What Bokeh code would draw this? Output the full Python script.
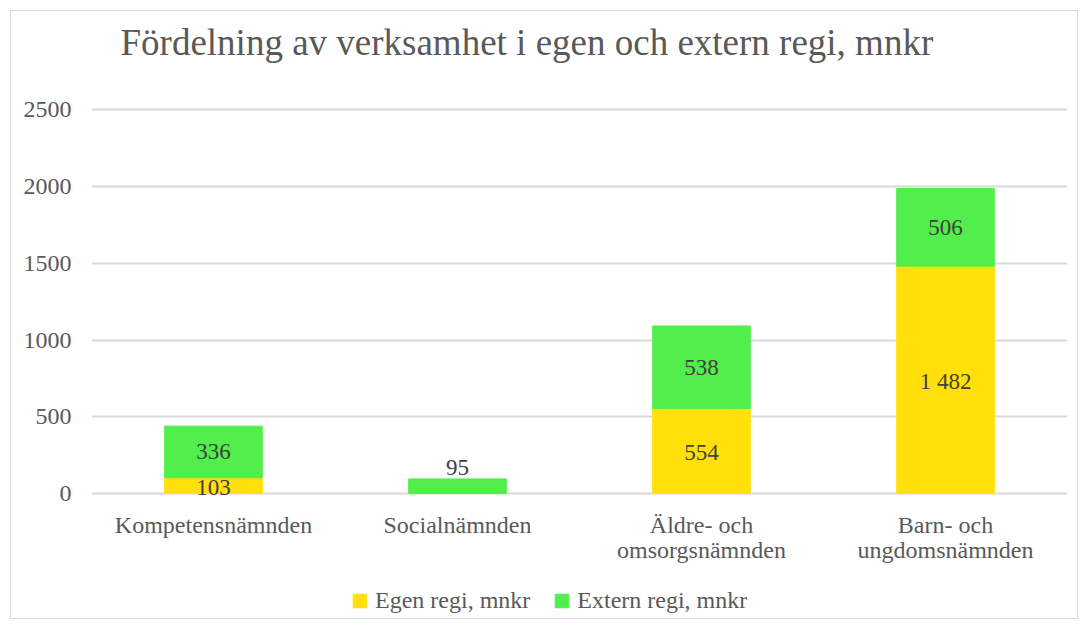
from bokeh.plotting import figure
from bokeh.models import ColumnDataSource, Legend, LegendItem, LabelSet, FactorRange
from bokeh.embed import file_html
from bokeh.resources import INLINE

categories = ["Kompetensnämnden", "Socialnämnden", "Äldre- och omsorgsnämnden", "Barn- och ungdomsnämnden"]
cat_line1 = ["Kompetensnämnden", "Socialnämnden", "Äldre- och", "Barn- och"]
cat_line2 = ["", "", "omsorgsnämnden", "ungdomsnämnden"]
egen = [103, 0, 554, 1482]
extern = [336, 95, 538, 506]
egen_labels = ["103", "", "554", "1 482"]
extern_labels = ["336", "95", "538", "506"]
y_ticks = [0, 500, 1000, 1500, 2000, 2500]
title = "Fördelning av verksamhet i egen och extern regi, mnkr"

YELLOW = "#FFE00A"
GREEN = "#52EE4B"
FONT = "'Liberation Serif', 'Times New Roman', serif"

src = ColumnDataSource(dict(
    cat=categories, egen=egen, extern=extern,
    top=[a + b for a, b in zip(egen, extern)],
    egen_mid=[a / 2 for a in egen],
    egen_lab=egen_labels,
    zero=[0] * len(categories),
    l1=cat_line1, l2=cat_line2,
))

# frame spans the whole chart box; y-range extended so that 0..2500 sits where the
# reference draws it and the title / category labels / legend fit inside
p = figure(x_range=FactorRange(*categories), y_range=(-815, 3142),
           frame_width=976, frame_height=607, output_backend="svg", toolbar_location=None,
           min_border_left=80, min_border_right=10, min_border_top=0, min_border_bottom=0)
p.styles = {"border": "1.5px solid #d9d9d9", "margin-left": "10px", "margin-top": "10px"}

r1 = p.vbar(x="cat", bottom=0, top="egen", width=0.4, color=YELLOW, source=src)
r2 = p.vbar(x="cat", bottom="egen", top="top", width=0.4, color=GREEN, source=src)

# data labels
kw = dict(text_font=FONT, text_font_size="23px", text_color="#404040", text_align="center")
p.add_layout(LabelSet(x="cat", y="egen_mid", text="egen_lab", source=src, text_baseline="middle",
                      y_offset=-2, **kw))
idx_mid = [0, 2, 3]
ext_src_mid = ColumnDataSource(dict(cat=[categories[i] for i in idx_mid],
                                    y=[egen[i] + extern[i] / 2 for i in idx_mid],
                                    t=[extern_labels[i] for i in idx_mid]))
p.add_layout(LabelSet(x="cat", y="y", text="t", source=ext_src_mid, text_baseline="middle", **kw))
ext_src_top = ColumnDataSource(dict(cat=[categories[1]], y=[egen[1] + extern[1]], t=[extern_labels[1]]))
p.add_layout(LabelSet(x="cat", y="y", text="t", source=ext_src_top, text_baseline="bottom", y_offset=4, **kw))

# category labels (two lines), below the zero line
ckw = dict(text_font=FONT, text_font_size="24px", text_color="#595959", text_align="center",
           text_baseline="alphabetic")
p.add_layout(LabelSet(x="cat", y="zero", text="l1", source=src, y_offset=-39.5, **ckw))
p.add_layout(LabelSet(x="cat", y="zero", text="l2", source=src, y_offset=-64.5, **ckw))

# title
title_src = ColumnDataSource(dict(x=[categories[0]], y=[y_ticks[-1]], t=[title]))
p.add_layout(LabelSet(x="x", y="y", text="t", source=title_src, x_offset=-93, y_offset=55,
                      text_font=FONT, text_font_size="37px", text_color="#595959",
                      text_align="left", text_baseline="alphabetic"))

# axes
p.xaxis.visible = False
p.yaxis.ticker = y_ticks
p.yaxis.axis_line_color = None
p.yaxis.major_tick_line_color = None
p.yaxis.minor_tick_line_color = None
p.yaxis.major_label_text_font = FONT
p.yaxis.major_label_text_font_size = "24px"
p.yaxis.major_label_text_color = "#595959"
p.yaxis.major_label_standoff = 14

p.xgrid.grid_line_color = None
p.ygrid.ticker = y_ticks
p.ygrid.grid_line_color = "#d9d9d9"
p.ygrid.grid_line_width = 2
p.outline_line_color = None
p.x_range.range_padding = 0
p.x_range.group_padding = 0

legend = Legend(items=[LegendItem(label="Egen regi, mnkr", renderers=[r1]),
                       LegendItem(label="Extern regi, mnkr", renderers=[r2])],
                orientation="horizontal", location=(260, 4), padding=5, margin=0,
                label_text_font=FONT, label_text_font_size="24px", label_text_color="#595959",
                glyph_width=17, glyph_height=17, spacing=23, label_standoff=7,
                border_line_color=None, background_fill_alpha=0)
p.add_layout(legend, "center")

open("out.html", "w").write(file_html(p, INLINE))
